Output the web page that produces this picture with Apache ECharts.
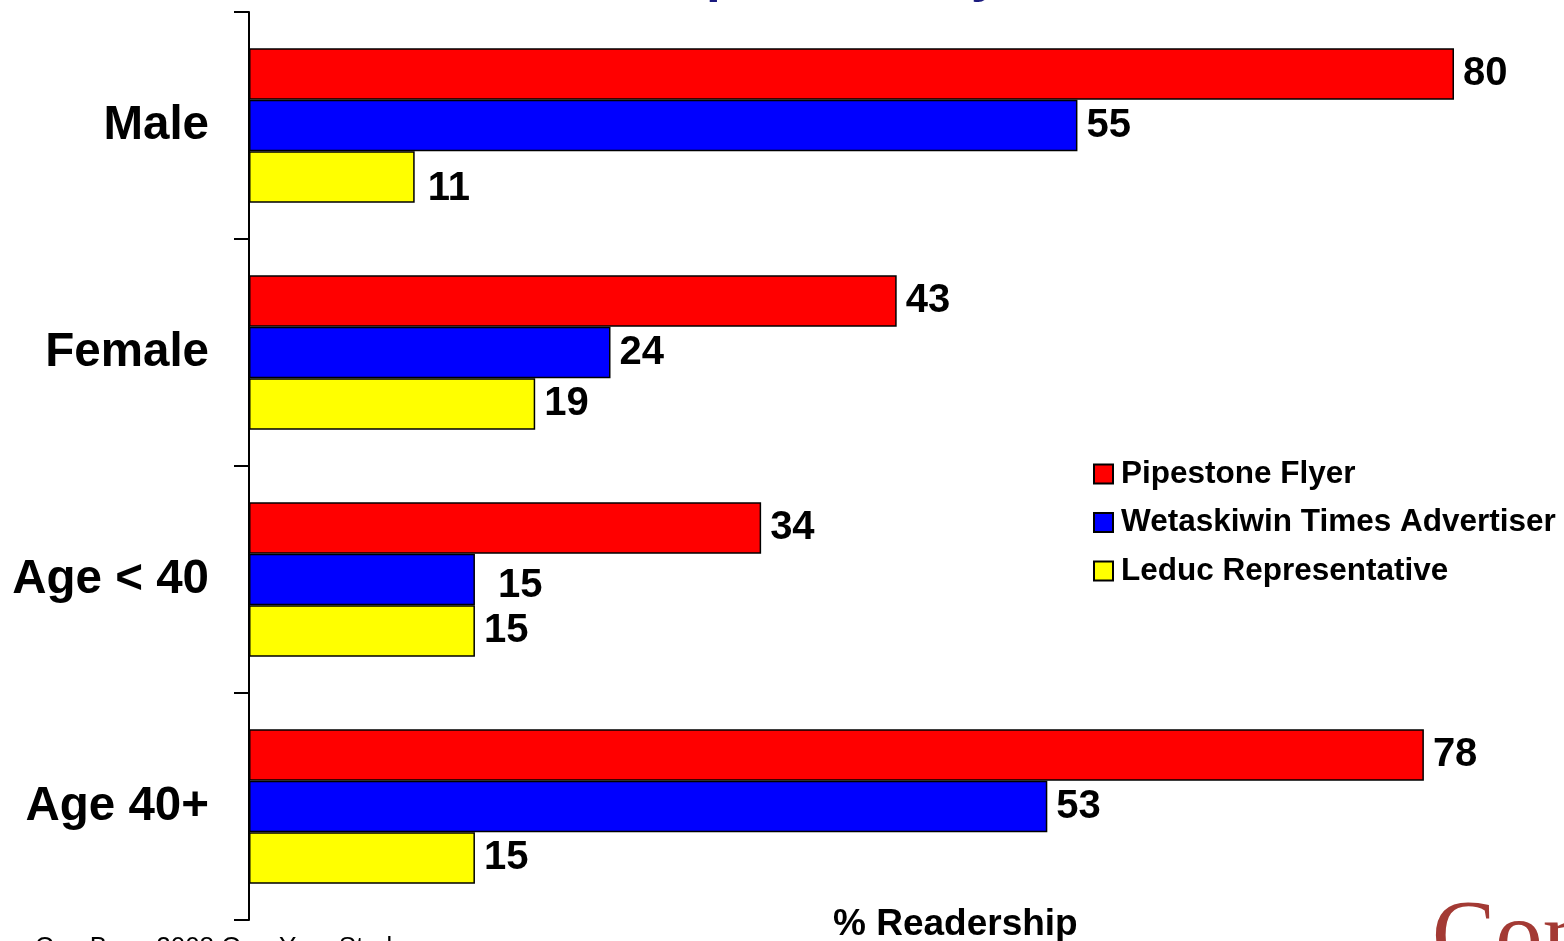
<!DOCTYPE html>
<html>
<head>
<meta charset="utf-8">
<style>
  html, body { margin: 0; padding: 0; background: #ffffff; }
  #chart { width: 1564px; height: 941px; }
</style>
<script src="https://cdn.jsdelivr.net/npm/echarts@6/dist/echarts.min.js"></script>
</head>
<body>
<div id="chart"></div>
<script>
// ---- data ----
var categories = ['Male', 'Female', 'Age < 40', 'Age 40+'];
var seriesNames = ['Pipestone Flyer', 'Wetaskiwin Times Advertiser', 'Leduc Representative'];
var pipestoneFlyer = [80, 43, 34, 78];
var wetaskiwinTimes = [55, 24, 15, 53];
var leducRep = [11, 19, 15, 15];
var axisTitle = '% Readership';
var titleText = 'Pipestone Flyer';
var sourceText = 'Source: ComBase 2008 One-Year Study';
var logoText = 'ComBase';

// ---- styling ----
var colors = ['#ff0000', '#0000ff', '#ffff00'];
var FONT = '"Liberation Sans", Arial, sans-serif';
// per-item label nudges seen in the original (series index -> category index -> offset)
var labelNudges = { 1: { 2: [14, 6] }, 2: { 0: [4, 12] } };

var allValues = [pipestoneFlyer, wetaskiwinTimes, leducRep];

function buildData(sIdx) {
  return allValues[sIdx].map(function (v, cIdx) {
    var nudge = labelNudges[sIdx] && labelNudges[sIdx][cIdx];
    if (nudge) return { value: v, label: { offset: nudge } };
    return v;
  });
}

var series = seriesNames.map(function (name, i) {
  return {
    name: name,
    type: 'bar',
    data: buildData(i),
    barGap: '0%',
    barCategoryGap: '32%',
    itemStyle: { color: colors[i], borderColor: '#000', borderWidth: 1.5 },
    label: {
      show: true,
      position: 'right',
      distance: 9,
      color: '#000',
      fontFamily: FONT,
      fontWeight: 'bold',
      fontSize: 40
    },
    emphasis: { disabled: true },
    animation: false
  };
});

var chart = echarts.init(document.getElementById('chart'), null, { renderer: 'canvas' });
chart.setOption({
  animation: false,
  backgroundColor: '#ffffff',
  grid: { left: 249, right: 110, top: 12, bottom: 21, containLabel: false },
  xAxis: {
    type: 'value',
    min: 0,
    max: 80,
    show: false
  },
  yAxis: {
    type: 'category',
    data: categories,
    inverse: true,
    axisLine: { show: true, lineStyle: { color: '#000', width: 2 } },
    axisTick: { show: true, length: 15, lineStyle: { color: '#000', width: 2 } },
    axisLabel: {
      margin: 40,
      color: '#000',
      fontFamily: FONT,
      fontWeight: 'bold',
      fontSize: 47.5
    },
    splitLine: { show: false }
  },
  legend: {
    orient: 'vertical',
    left: 1088,
    top: 453,
    itemWidth: 19,
    itemHeight: 19,
    itemGap: 16.5,
    icon: 'rect',
    data: seriesNames,
    itemStyle: { borderColor: '#000', borderWidth: 2 },
    textStyle: {
      color: '#000',
      fontFamily: FONT,
      fontWeight: 'bold',
      fontSize: 31.5,
      lineHeight: 31,
      padding: [0, 0, 0, 3]
    },
    selectedMode: false
  },
  graphic: [
    {
      type: 'text',
      left: 656,
      top: -50,
      style: {
        text: titleText,
        fill: '#1a1a7e',
        font: 'bold 53px ' + FONT
      },
      silent: true
    },
    {
      type: 'text',
      left: 833,
      top: 906,
      style: {
        text: axisTitle,
        fill: '#000',
        font: 'bold 37px ' + FONT
      },
      silent: true
    },
    {
      type: 'text',
      left: -62,
      top: 935,
      style: {
        text: sourceText,
        fill: '#000',
        font: '26px ' + FONT
      },
      silent: true
    },
    {
      type: 'text',
      left: 1432,
      top: 894,
      style: {
        text: logoText,
        fill: '#a33a34',
        font: '95px "Liberation Serif", "Times New Roman", serif'
      },
      silent: true
    }
  ],
  series: series
});
</script>
</body>
</html>
